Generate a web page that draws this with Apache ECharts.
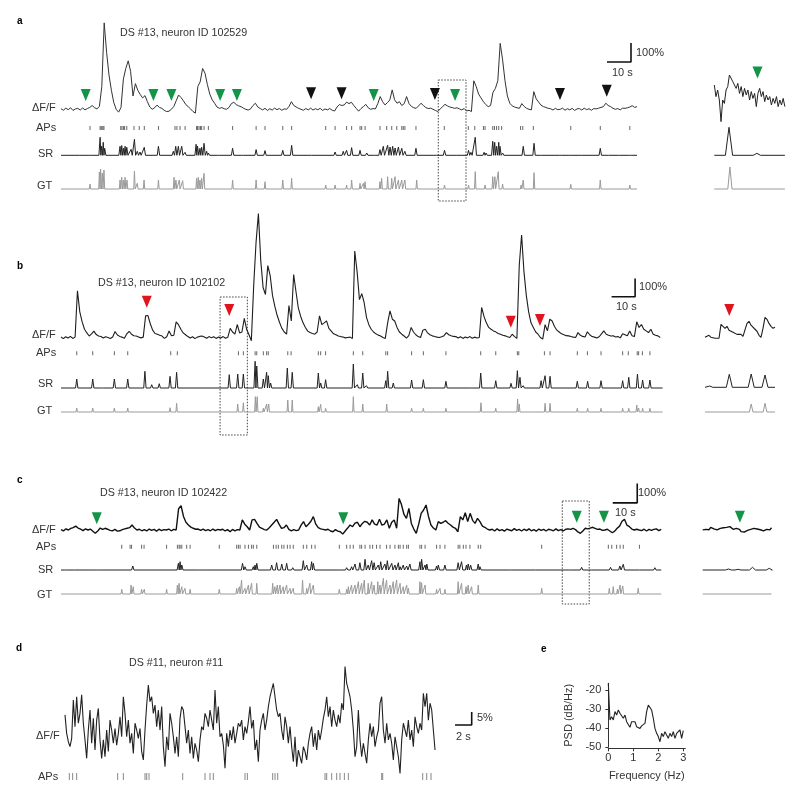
<!DOCTYPE html>
<html><head><meta charset="utf-8">
<script src="https://cdn.jsdelivr.net/npm/echarts@6.0.0/dist/echarts.min.js"></script>
<style>html,body{margin:0;padding:0;background:#fff}#c{width:800px;height:807px}</style>
</head><body><div id="c"></div><script>
// ---------- DATA ----------
// Panel a (time step 1 s, ΔF/F in %)
const traceA = [3,-5,6,-2,8,-6,2,5,-4,7,-3,4,10,
20,8,2,15,
120,455,300,180,100,35,0,-15,10,
160,215,255,200,70,135,100,78,60,72,40,12,
0,8,22,10,5,-5,-12,-10,0,15,
45,75,62,45,25,14,2,-12,-20,
120,145,215,190,130,80,50,32,12,5,9,3,
0,10,30,37,25,18,14,6,0,-4,2,
20,32,12,4,-3,5,-6,3,-4,6,-2,4,-5,2,0,
15,40,20,12,5,0,
-5,4,-3,6,-4,3,-2,5,-6,2,-3,4,-5,-9,
12,25,20,23,38,30,37,20,5,-10,4,14,26,8,0,4,2,
30,67,40,23,35,49,102,50,32,40,20,30,67,30,15,8,5,
18,32,20,9,4,6,0,-6,-12,2,14,26,18,12,9,5,8,2,-3,4,-9,-5,-12,
150,120,80,60,40,25,14,20,90,110,150,347,260,150,70,32,18,12,8,5,30,15,5,0,-3,
93,55,38,22,14,10,5,3,-4,5,-2,0,6,-5,3,-3,5,-6,2,4,-4,6,-2,3,-5,4,2,6,
10,14,32,20,14,5,0,4,-3,6,5,8,12,19,10,14];
const apsA = [12.1,16.3,16.7,17.1,17.5,17.9,24.9,25.4,26,26.5,27.4,30.4,32.6,34.7,40.6,47.5,48.3,49.6,51.7,56.5,56.9,57.5,58.1,58.6,59.6,61.4,71.5,81.3,85,92.4,96.1,110.3,114.2,119,121.1,124.6,125.3,126.7,132.9,135.7,137.8,139.9,142,142.6,143.3,147.9,159.7,169.7,172.4,176,176.7,179.9,180.6,181.5,182.4,183.6,191.5,192.4,196.8,212.4,224.7,237];
const srA = [[8.3,1.3],[12.4,1.7],[16.3,18],[16.9,9],[17.6,13],[18.2,7],[24.6,9],[25.3,9.7],[26,7],[26.7,9],[27.4,8],[29.2,6],[30.6,16],[31.8,4],[32.9,3.3],[34.7,8],[40.6,9],[46.8,4],[47.8,9],[48.9,9],[50.3,9],[51.7,3],[56.3,11],[56.9,9],[57.9,7],[58.6,8],[59.6,12],[60.7,4],[61.4,2.3],[65.6,1.3],[71.5,7],[75.6,1.3],[81.3,5.7],[85,4.7],[92.4,5],[96.1,10],[103.8,1.3],[114.2,3.3],[117.6,4],[119,5],[121.1,7.7],[124.6,5],[127.4,2.3],[130.1,1.7],[132.9,5.7],[134.3,9],[136.1,10],[137.1,8.3],[138.2,9],[139.2,7.3],[140.6,8.3],[142,7],[143.3,4],[147.9,7],[155.9,0.7],[159.8,5],[164.2,0.5],[169.8,5],[170.8,3],[172.6,18],[176.3,3],[177.1,2.3],[179.9,14],[180.7,13],[181.5,9],[182.4,13],[182.9,9],[184,2.3],[192.6,9],[197.1,12],[200.3,0.7],[208.1,1.7],[212.4,0.7],[216.3,0.7],[224.7,7],[227.6,1.3],[232.2,1],[236.8,1]];
const gtA = [[12.1,5],[16,17],[16.5,20],[17.2,16],[17.9,19],[24.6,9],[25.3,11.7],[26,9],[26.7,11.7],[27.5,9],[30.6,18],[31.8,5.7],[34.6,9],[40.6,9],[47.1,11.7],[47.9,9],[49.3,9],[50.7,8.3],[56.5,10.7],[57.2,11.7],[57.9,9],[58.6,10.7],[59.6,15.7],[71.5,9],[81.3,9],[85,7.3],[92.4,9],[96.1,10.7],[110.3,4],[114.2,4],[119,4],[121.1,9],[124.6,5.7],[126,5.7],[126.7,7.3],[132.9,7.3],[133.6,10.7],[136.1,12.3],[137.8,10.7],[139.2,12.3],[140.6,9],[142,9],[143.3,9],[148.2,9],[159.8,4],[169.8,4],[172.6,17.3],[176.7,4],[179.9,12.3],[180.8,12.3],[182.2,17.3],[184,5],[191.7,4],[192.6,9],[197.1,16.3],[212.4,4.7],[224.7,9],[237,4]];
const arrowsAGreen = [[10.3,75],[38.5,75],[46,75],[66.3,75],[73.3,75],[130.3,75],[164.2,75]];
const arrowsABlack = [[104.2,84],[116.9,84],[155.8,80],[207.9,80],[227.4,98]];
const boxA = [157.2,168.75];
const insetTraceA = [75,17,50,0,-108,0,-17,50,67,125,133,92,100,58,83,33,67,17,58,25,50,0,42,8,33,-33,33,58,17,42,-8,25,0,17,-25,8,-17,17,-33,0,-25,8,-33];
const insetSrA = [[2.45,28],[7.1,2]];
const insetGtA = [[2.6,22]];
const insetArrowA = [[7.2,137]];

// Panel b
const traceB = [3,-6,4,-3,6,-5,2,
255,140,85,45,25,8,
20,35,16,8,5,-3,4,0,-5,3,
33,14,6,2,-4,
20,34,18,10,8,3,-2,2,
118,120,75,40,22,18,12,8,-5,4,
36,10,12,85,70,45,25,15,5,-3,
4,-6,2,6,8,3,-4,5,-2,4,-5,3,-3,5,-4,2,
50,30,18,71,25,30,104,45,15,-18,
284,520,677,420,273,235,393,340,230,170,120,82,50,30,18,
175,90,344,250,160,115,80,55,35,27,22,18,
30,118,70,80,91,50,35,20,15,8,5,3,-2,0,2,-5,
473,360,207,240,190,110,70,45,30,20,13,8,0,-5,
80,146,100,90,55,30,18,8,-3,10,55,30,15,5,0,
40,45,25,15,9,5,2,0,4,10,27,15,10,6,5,-3,4,-5,3,-2,5,-4,2,-3,0,
164,115,80,55,45,36,31,22,18,12,9,4,0,18,5,-5,
393,560,360,230,140,80,55,30,18,0,-9,
70,36,100,90,60,40,30,20,15,10,9,5,2,0,27,12,6,3,31,15,5,2,-3,4,
20,36,18,12,8,9,3,5,-2,20,15,9,36,10,5,86,55,71,45,36,27,45,18,12,9,0];
const apsB = [6.7,13.5,22.7,28.4,46.7,49.5,75.5,77.6,82.6,83.3,86.1,87.5,88.2,96.5,97.9,109.5,110.5,112.6,124.4,128.4,138.2,139,149.2,154.2,163.8,178.6,185,194.2,194.8,205.7,208.1,219.7,224,229.8,239,241.4,245.2,245.8,247.4,250.6];
const srB = [[6.7,9],[13.5,9],[17.7,1.7],[22.7,9],[28.4,9],[35.7,16.7],[38.6,3.3],[41.8,4.3],[46.4,11.7],[49.2,15.7],[71.6,13.3],[75.2,14],[77.6,14],[82.6,26.7],[83.3,22],[86.1,9],[87.5,15.7],[88.2,12.3],[89.2,5],[96.3,20],[98.4,15.7],[109.5,15],[110.5,5],[112.6,8.3],[124.4,24],[126.1,3.3],[128.4,15],[130,2.3],[138.2,7.3],[139,16.7],[141.4,5],[149.2,8],[154.2,8.3],[163.8,6.7],[174.8,1.7],[178.6,15],[185,7.3],[191.5,4.7],[194.2,17.3],[195.3,10.7],[196.7,2.3],[204.3,7.3],[206,12.3],[208.1,11.7],[219.7,6.7],[224.1,6.7],[229.8,7.3],[239,7.3],[241.6,10.7],[245.3,14],[247.5,8],[250.6,8]];
const gtB = [[6.7,4],[13.5,4],[22.7,4],[28.4,4],[46.4,4.3],[49.2,8.7],[75.2,8],[77.6,9.3],[82.7,15.3],[83.5,15.3],[86.1,3.7],[87.5,8],[88.4,8],[96.5,12],[98.4,12],[109.5,5.3],[110.5,7.7],[112.6,3.7],[124.4,15.3],[128.4,8],[138.6,8],[149.2,3.7],[154.2,3.7],[163.8,3.7],[178.7,9.3],[185,3.7],[194.3,13],[195,8],[206,8.7],[208.1,8.7],[219.7,3.7],[224.1,3.7],[229.8,3.7],[239,3.7],[241.6,3.7],[245,7],[245.8,4],[247.5,3.7],[250.6,3.7]];
const arrowsBRed = [[36.5,195],[71.6,150],[191.4,86],[203.8,96]];
const boxB = [67.7,79.3];
const insetTraceB = [0,-5,11,0,5,-5,5,-5,71,71,49,60,38,38,27,33,16,11,16,5,-5,76,87,66,60,44,33,11,0,49,109,98,76,60,49,55];
const insetSrB = [[0.8,1.3],[4.05,13],[7.7,13.3],[10,12.3]];
const insetGtB = [[7.7,8],[10,8.7]];
const insetArrowB = [[4.05,149]];

// Panel c
const traceC = [2,-5,6,0,8,12,20,10,4,-3,6,0,5,-6,
-17,-5,10,3,9,4,-2,-4,3,-6,-4,2,6,9,12,
26,10,0,4,-4,2,-5,5,-2,3,-6,4,-3,2,0,5,-4,3,0,
110,125,70,40,26,15,9,4,5,-2,4,-3,2,-4,5,-3,3,0,4,-5,2,-9,3,-4,2,0,
52,30,17,0,52,55,34,15,9,2,0,12,26,40,55,30,8,12,26,3,-4,2,-3,0,
25,43,17,30,45,69,30,12,6,3,0,4,-5,-9,2,-6,-9,-21,-5,
10,26,17,35,40,17,34,45,40,26,52,30,26,55,25,30,52,9,40,52,9,
163,130,80,60,112,34,5,-17,30,86,103,129,70,26,10,0,43,34,40,48,35,26,15,9,-9,69,52,89,43,86,50,34,60,43,20,14,5,0,
4,-5,6,-3,2,-6,5,0,-4,7,-2,3,-5,4,-3,6,-4,2,-6,5,-2,3,-5,4,1,-4,6,-3,2,-5,4,
6,3,9,2,-10,-17,-5,9,6,10,14,8,3,5,-2,0,4,-5,-14,-6,9,20,45,55,25,17,5,0,4,0,-3,4,-5,3,-2,3,6,-3,3];
const apsC = [24.8,28.2,28.8,32.9,33.9,43.1,47.5,48.2,48.6,49.3,51.3,52.7,64.6,71.7,72.4,73.1,75.1,76.5,77.8,78.5,79.9,86.7,87.8,88.7,90.1,91,92.4,93.5,94.8,98.9,100.3,102.3,103.7,113.6,116.6,118,119.3,122,122.7,124.1,126.1,127.2,128.8,130.2,132.9,134.3,136.3,137.7,138.4,139.7,141.1,141.8,146.5,147.2,148.6,153.3,154.7,156.7,162.1,162.8,164.2,165.3,166.9,170.3,171.3,196.2,223.4,224.8,226.8,228.2,229.5,236.1];
const srC = [[2.3,1],[5,1],[13.9,1.3],[15.9,1],[29.3,4],[47.9,6.7],[48.6,8.3],[49.3,5],[56.7,1],[74.1,6.7],[75.1,3.3],[78.5,3.3],[79.2,5],[79.9,6.7],[86,5],[88,7.3],[90.1,6],[92.1,6.7],[94.6,2.3],[98.9,9.3],[100.3,5],[102.3,8.3],[103,6.7],[113.9,1.3],[116.6,2.3],[118.6,3.3],[120,6],[122,7.3],[124.1,10.7],[125.4,5],[126.8,9.3],[127.8,7.3],[129.5,5],[130.5,8.3],[132.2,6],[133.2,9.3],[135,6.7],[136.3,5],[137.7,7.3],[138.4,3.3],[139.7,5],[141.1,4],[142.4,6],[146.5,8.3],[147.2,10.7],[148.6,5],[149.3,6],[153.3,4],[154,5],[156.7,5],[162.1,7.3],[163.5,8.3],[165.5,5],[166.2,6],[167.2,5],[170.3,6],[171,3.3],[183.3,0.7],[194.2,1],[208,0.7],[212.5,2.7],[215.9,1.7],[224.3,2.7],[228.1,4],[229.5,5.7],[235.6,1],[242.4,2.3]];
const gtC = [[24.8,4.7],[28.6,9],[29.5,7.3],[32.9,4.7],[34,4.7],[43.1,4.7],[47.5,9],[48.2,10.7],[49.3,7.3],[50.6,5.7],[52.7,4.7],[64.6,4.7],[71.7,5.7],[72.8,7.3],[73.7,14],[75.1,5.7],[76.5,9],[77.8,10.7],[79.9,10.7],[86.4,10.7],[87.3,7.3],[88.3,9],[89.4,9],[90.7,7.3],[92.1,9],[93.5,5.7],[94.8,5.7],[98.6,14],[100.3,5.7],[101.6,10.7],[103,9],[113.6,4.7],[116.6,4.7],[117.3,7.3],[118.6,9],[120,9],[121.4,12.3],[122.7,10.7],[123.8,14],[125.4,10.7],[126.8,12.3],[127.8,9],[129.3,12.3],[130.2,9],[131.6,15.7],[132.9,14],[134.3,9],[135.6,12.3],[137,14],[138.4,10.7],[139.7,7.3],[141.1,9],[141.8,5.7],[146.5,12.3],[147.2,11.3],[148.6,9],[153.3,4.7],[154.7,5.7],[156.7,4.7],[162.1,12.3],[163.5,10.7],[165.3,7.3],[166.2,9],[167.6,7.3],[170.3,9],[196.2,5.7],[223.8,5.7],[225.4,7.3],[227.1,4.7],[228.2,9],[229.3,8],[235.6,5.7]];
const arrowsCGreen = [[14.6,60],[115.2,60],[210.5,68],[221.6,68]];
const boxC = [204.6,215.6];
const insetTraceC = [-3,5,0,3,-2,10,0,2,5,-3,0,5,-2,8,3,10,5,14,8,0,10,5,-5,0,-12,-18,-14,-10,-5,-7,0,-3,5,-4,2,-6,-2,3,-8,-12,0,5,-3,8];
const insetSrC = [[4.3,1],[5.9,0.7],[8.3,2.7],[11.1,1.7]];
const insetGtC = [];
const insetArrowC = [[6.2,65]];

// Panel d (time step 0.2 s, ΔF/F in %)
const traceD = [5.8,-1.3,-4.5,-6.4,-3.2,11.5,1.3,12.8,2.6,6.4,
13.5,2.6,-3.8,-10.9,0,7.7,-5.1,4.5,-7.7,3.8,
8.3,-3.8,-10.9,-3.8,-10.3,0,-8.3,3.8,0,-5.1,
0.6,-5.8,-1.3,5.1,-2.6,12.8,6.4,-2.6,3.8,-5.1,
-1.3,-9,2.6,0,-3.2,0.6,-8.3,-11.5,0,9.6,
17.3,10.9,12.8,6.4,9.6,1.3,7.7,0,9,-6.4,
-14.1,-2.6,-7.7,6.4,2.6,-2.6,-9,-2.6,-10.3,4.5,
9,7.7,1.3,-5.1,0,-9,-2.6,-10.9,-5.1,-7.7,
-12.2,-3.8,1.3,0,6.4,4.5,1.3,7.7,3.8,0,
15.4,2.6,9,-2.6,-1.3,-5.8,-14.7,-1.3,-6.4,0,
-3.8,1.3,-5.1,-1.3,2.6,1.3,3.8,-3.8,1.3,-1.3,
3.2,9,0.6,3.8,-7.7,-3.8,-12.2,0,3.8,6.4,
0,3.8,9,12.8,15.4,17.9,12.8,7.7,5.1,6.4,
0,-3.8,5.1,1.3,-5.1,1.3,-6.4,-12.2,-2.6,-14.1,
-7.7,-10.3,-12.8,-6.4,-8.3,-11.5,-5.1,-1.3,1.3,-6.4,
-1.3,-7.7,0,-3.8,0,4.5,7.7,12.8,5.1,9,
1.3,7.7,3.8,1.3,5.8,2.6,10.3,7.7,24.4,17.9,
15.4,12.8,7.7,0,-10.3,-6.4,7.7,-3.8,-10.3,-5.1,
-9,-12.8,-3.8,2.6,-2.6,1.3,-6.4,-2.6,0,10.3,
12.8,0,-5.1,2.6,-3.8,-1.3,-5.1,-11.5,-2.6,-6.4,
-10.3,-16.7,-3.8,2.6,0,-2.6,3.8,-3.8,0,-6.4,
5.1,1.3,-1.3,2.6,0,14.1,9,14.1,3.8,10.3,
7.7,0,-7.7];
const apsD = [0.52,0.92,1.4,6.32,7,9.6,9.8,10.08,14.12,16.8,17.4,17.8,21.6,21.88,24.92,25.2,25.52,31.2,31.4,32,32.6,33,33.52,34,38,38.12,42.92,43.4,43.92];

// Panel e (frequency step 1/15 Hz)
const psdDb = [-16.5,-35.7,-34,-35.7,-31.3,-33.1,-30.5,-32.2,-31.3,-34.8,-33.1,-36.6,-35.7,-39.5,-36.6,-37.5,-36.6,-39.2,-38.3,-40.1,-38.8,-39.2,-37.5,-31.3,-27.9,-27,-30.5,-34.8,-40.1,-42.7,-44.4,-47.1,-42.7,-44.4,-41.8,-43.6,-45.3,-42.7,-44.4,-41.8,-45.3,-42.7,-43.6,-40.9,-45.3,-41.3];
const psdTicksX = [0,1,2,3];
const psdTicksY = [-50,-40,-30,-20];

// scale bars: [t0, v0, dt, dv]
const scaleA = [227.5,249,10,100];
const scaleB = [234.3,223,10,100];
const scaleC = [225.2,140,10,100];
const scaleD = [46.8,1.9,2,5];

// ---------- BUILD ----------
const grids=[], xAxes=[], yAxes=[], series=[];
function grid(left, top, width, height, xmin, xmax, ymin, ymax){
  const i=grids.length;
  grids.push({left, top, width, height});
  xAxes.push({type:'value', gridIndex:i, min:xmin, max:xmax, show:false});
  yAxes.push({type:'value', gridIndex:i, min:ymin, max:ymax, show:false});
  return i;
}
function line(i, data, color, width){
  series.push({type:'line', xAxisIndex:i, yAxisIndex:i, data, symbol:'none', showSymbol:false,
    lineStyle:{color, width}, silent:true, animation:false, clip:false, z:3});
}
function trace(i, vals, dt, color, width){ line(i, vals.map((v,k)=>[k*dt, v]), color, width); }
function spikeLine(list, w, T){
  const s = list.slice().sort((p,q)=>p[0]-q[0]);
  const out=[[0,0]]; let prevEnd=-1e9;
  for (const [t,h] of s){
    if (t-w < prevEnd){ out.pop(); const pk=out[out.length-1][0]; out.push([(pk+t)/2,0]); }
    else out.push([t-w,0]);
    out.push([t,h]); out.push([t+w,0]); prevEnd=t+w;
  }
  out.push([T,0]); return out;
}
function ticks(i, times, color, size){
  series.push({type:'scatter', xAxisIndex:i, yAxisIndex:i, data:times.map(t=>[t,0.5]), symbol:'rect',
    symbolSize:size, itemStyle:{color, opacity:1}, silent:true, animation:false});
}
function tri(i, pts, color){
  series.push({type:'scatter', xAxisIndex:i, yAxisIndex:i, data:pts, symbol:'triangle', symbolRotate:180,
    symbolSize:[10,12], itemStyle:{color, opacity:1}, silent:true, animation:false, z:5});
}
function scale(i, s){
  line(i, [[s[0],s[1]],[s[0]+s[2],s[1]],[s[0]+s[2],s[1]+s[3]]], '#111', 1.6);
}
const GREEN='#139447', RED='#e0141e', BLACK='#111';
const SRc='#222', GTc='#9a9a9a', APc='#666';

// panel a
const gA = grid(61,14.3,576,104.5,0,240,-50,500);
const gAap = grid(61,124,576,8,0,240,0,1);
const gAsr = grid(61,135.3,576,20,0,240,0,20);
const gAgt = grid(61,169,576,20,0,240,0,20);
trace(gA, traceA, 1, '#333', 1);
ticks(gAap, apsA, APc, [1,4]);
line(gAsr, spikeLine(srA,0.5,240), SRc, 1);
line(gAgt, spikeLine(gtA,0.3,240), GTc, 1);
tri(gA, arrowsAGreen, GREEN); tri(gA, arrowsABlack, BLACK);
scale(gA, scaleA);
const iA = grid(714.3,70,70.56,54,0,11.76,-120,150);
const iAsr = grid(714.3,125.3,70.56,30,0,11.76,0,30);
const iAgt = grid(714.3,164,70.56,25,0,11.76,0,25);
trace(iA, insetTraceA, 0.28, '#222', 1);
line(iAsr, spikeLine(insetSrA,0.6,11.76), SRc, 1);
line(iAgt, spikeLine(insetGtA,0.35,11.76), GTc, 1);
tri(iA, insetArrowA, GREEN);

// panel b
const gB = grid(61,209.4,601.6,137.25,0,256,-50,700);
const gBap = grid(61,349.3,601.6,8,0,256,0,1);
const gBsr = grid(61,368,601.6,20,0,256,0,20);
const gBgt = grid(61,392,601.6,20,0,256,0,20);
trace(gB, traceB, 1, '#1e1e1e', 1.1);
ticks(gBap, apsB, APc, [1,4]);
line(gBsr, spikeLine(srB,0.5,256), SRc, 1);
line(gBgt, spikeLine(gtB,0.3,256), GTc, 1);
tri(gB, arrowsBRed, RED);
scale(gB, scaleB);
const iB = grid(705,308,70,34.8,0,11.667,-30,160);
const iBsr = grid(705,367.3,70,20,0,11.667,0,20);
const iBgt = grid(705,392,70,20,0,11.667,0,20);
trace(iB, insetTraceB, 0.3333, '#1e1e1e', 1.1);
line(iBsr, spikeLine(insetSrB,0.5,11.667), SRc, 1);
line(iBgt, spikeLine(insetGtB,0.3,11.667), GTc, 1);
tri(iB, insetArrowB, RED);

// panel c
const gC = grid(61,479.6,600.25,60.1,0,245,-50,260);
const gCap = grid(61,542.7,600.25,8,0,245,0,1);
const gCsr = grid(61,550,600.25,20,0,245,0,20);
const gCgt = grid(61,574,600.25,20,0,245,0,20);
trace(gC, traceC, 1, '#111', 1.4);
ticks(gCap, apsC, APc, [1,4]);
line(gCsr, spikeLine(srC,0.5,245), SRc, 1);
line(gCgt, spikeLine(gtC,0.3,245), GTc, 1);
tri(gC, arrowsCGreen, GREEN);
scale(gC, scaleC);
const iC = grid(702.7,513.8,68.8,23.3,0,11.47,-40,80);
const iCsr = grid(702.7,550,68.8,20,0,11.47,0,20);
const iCgt = grid(702.7,574,68.8,20,0,11.47,0,20);
trace(iC, insetTraceC, 0.2667, '#111', 1.4);
line(iCsr, spikeLine(insetSrC,0.5,11.47), SRc, 1);
line(iCgt, spikeLine(insetGtC,0.3,11.47), GTc, 1);
tri(iC, insetArrowC, GREEN);

// panel d
const gD = grid(65,657.2,416.7,124.8,0,50,-20,28);
const gDap = grid(65,773,416.7,7,0,50,0,1);
trace(gD, traceD, 0.2, '#222', 1.1);
ticks(gDap, apsD, '#888', [1,7]);
scale(gD, scaleD);

// panel e
const gE = grids.length;
grids.push({left:608.3, top:683.3, width:77, height:64});
const axTxt = {color:'#333', fontSize:11, fontFamily:'Liberation Sans'};
xAxes.push({type:'value', gridIndex:gE, min:0, max:3.08, offset:1,
  axisLine:{show:true, lineStyle:{color:'#333', width:1}},
  axisTick:{show:true, length:3, lineStyle:{color:'#333'}, customValues:psdTicksX},
  axisLabel:Object.assign({margin:4, customValues:psdTicksX}, axTxt),
  splitLine:{show:false}, name:'Frequency (Hz)', nameLocation:'middle', nameGap:22, nameTextStyle:axTxt});
yAxes.push({type:'value', gridIndex:gE, min:-50, max:-16.5, offset:3,
  axisLine:{show:true, lineStyle:{color:'#333', width:1}},
  axisTick:{show:true, length:3, lineStyle:{color:'#333'}, customValues:psdTicksY},
  axisLabel:Object.assign({margin:4, customValues:psdTicksY}, axTxt),
  splitLine:{show:false}, name:'PSD (dB/Hz)', nameLocation:'middle', nameGap:31, nameRotate:90, nameTextStyle:axTxt});
line(gE, psdDb.map((v,k)=>[k/15, v]), '#222', 1.1);

const chart = echarts.init(document.getElementById('c'), null, {renderer:'canvas', width:800, height:807});
chart.setOption({animation:false, backgroundColor:'#fff', grid:grids, xAxis:xAxes, yAxis:yAxes, series});

// ---------- ANNOTATIONS ----------
const F = '11px "Liberation Sans", Arial, sans-serif';
const FT = '10.7px "Liberation Sans", Arial, sans-serif';
const FB = 'bold 10px "Liberation Sans", Arial, sans-serif';
const texts = [
  ['a',17,21,FB],['DS #13, neuron ID 102529',120,33,FT],
  ['ΔF/F',32,108,F],['APs',36,128,F],['SR',38,154,F],['GT',37,186,F],['100%',636,53,F],['10 s',612,73,F],
  ['b',17,266,FB],['DS #13, neuron ID 102102',98,283,FT],
  ['ΔF/F',32,335,F],['APs',36,353,F],['SR',38,384,F],['GT',37,411,F],['100%',639,287,F],['10 s',616,307,F],
  ['c',17,480,FB],['DS #13, neuron ID 102422',100,493,FT],
  ['ΔF/F',32,530,F],['APs',36,547,F],['SR',38,570,F],['GT',37,595,F],['100%',638,493,F],['10 s',615,513,F],
  ['d',16,648,FB],['DS #11, neuron #11',129,663,FT],
  ['ΔF/F',36,736,F],['APs',38,777,F],['5%',477,718,F],['2 s',456,737,F],
  ['e',541,649,FB]
];
const graphic = texts.map(([t,x,y,f])=>({type:'text', x, y, silent:true,
  style:{text:t, font:f, fill:f===FB?'#000':'#333', align:'left', verticalAlign:'middle'}}));
function box(gi, range, y0, y1){
  const xa = chart.convertToPixel({gridIndex:gi}, [range[0],0])[0];
  const xb = chart.convertToPixel({gridIndex:gi}, [range[1],0])[0];
  graphic.push({type:'rect', silent:true, shape:{x:xa, y:y0, width:xb-xa, height:y1-y0},
    style:{fill:'none', stroke:'#444', lineWidth:1, lineDash:[1.5,1.5]}});
}
box(gA, boxA, 80, 201);
box(gB, boxB, 297, 435);
box(gC, boxC, 501, 604);
chart.setOption({graphic});
</script></body></html>
